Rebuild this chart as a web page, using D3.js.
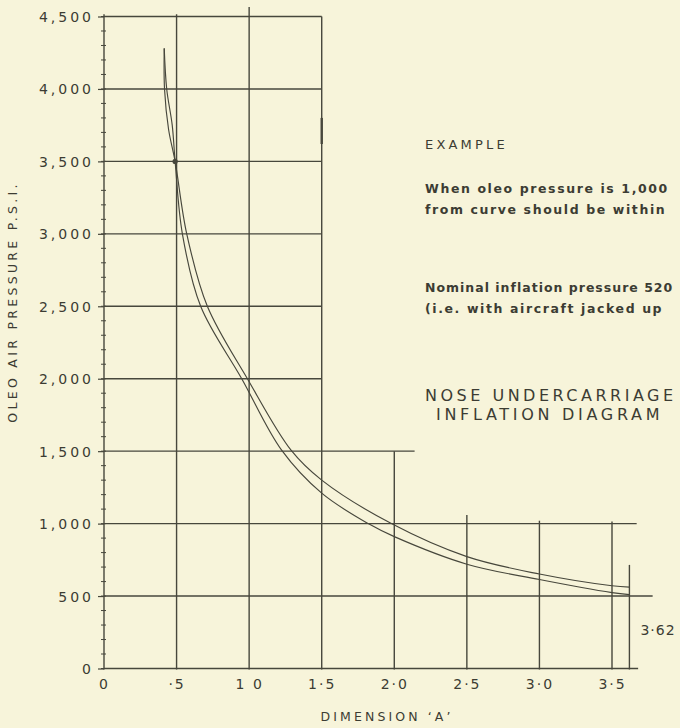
<!DOCTYPE html>
<html><head><meta charset="utf-8">
<script src="https://cdn.jsdelivr.net/npm/d3@7"></script>
<style>
html,body{margin:0;padding:0;background:#f7f4da;}
svg{display:block;}
</style></head><body>
<svg id="chart" width="680" height="728"></svg>
<script>
// ---- data ----
const xTicks = [0, 0.5, 1, 1.5, 2, 2.5, 3, 3.5];
const xTickLabels = ["0", "·5", "1 0", "1·5", "2·0", "2·5", "3·0", "3·5"];
const yTicks = [0, 500, 1000, 1500, 2000, 2500, 3000, 3500, 4000, 4500];
const yTickLabels = ["0", "500", "1,000", "1,500", "2,000", "2,500", "3,000", "3,500", "4,000", "4,500"];
const upperCurve = [[0.415,4280],[0.417,4000],[0.445,3720],[0.49,3500],[0.57,3000],[0.712,2500],[0.988,2000],[1.29,1505],[1.5,1300],[1.98,1000],[2.5,772],[3.0,652],[3.5,571],[3.62,562]];
const lowerCurve = [[0.415,4280],[0.432,4000],[0.47,3750],[0.49,3500],[0.54,3000],[0.666,2500],[0.949,2000],[1.225,1505],[1.5,1210],[1.82,1000],[2.0,910],[2.5,720],[3.0,614],[3.5,524],[3.62,510]];
const markPoint = [0.49, 3500];
const limitDimension = 3.62;
const limitLabel = "3·62";
const hGridValues = [0, 500, 1000, 1500, 2000, 2500, 3000, 3500, 4000, 4500];
const hGridEnds = [3.68, 3.78, 3.67, 2.14, 1.5, 1.5, 1.5, 1.5, 1.5, 1.5];
const vGridValues = [0, 0.5, 1, 1.5, 2, 2.5, 3, 3.5, 3.62];
const vGridTops = [4515, 4515, 4565, 4500, 1500, 1060, 1020, 1015, 715];
const xTitle = "DIMENSION \u2018A\u2019";
const yTitle = "OLEO AIR PRESSURE  P.S.I.";
const noteHead = "EXAMPLE";
const noteLines1 = ["When oleo pressure is 1,000", "from curve should be within"];
const noteLines2 = ["Nominal inflation pressure 520", "(i.e. with aircraft jacked up"];
const titleLines = ["NOSE UNDERCARRIAGE", "INFLATION DIAGRAM"];

// ---- drawing ----
const ink = "#47473c";
const txt = "#3c3c33";
const font = "DejaVu Sans, sans-serif";
const svg = d3.select("#chart");
svg.append("rect").attr("width",680).attr("height",728).attr("fill","#f7f4da");

const x = d3.scaleLinear().domain([0, 3.5]).range([104, 612]);
const y = d3.scaleLinear().domain([0, 4500]).range([668.5, 16.5]);

const g = svg.append("g");

// horizontal grid lines
g.selectAll("line.h").data(hGridValues).join("line")
  .attr("class","h")
  .attr("x1", x(0)).attr("x2", (d,i) => x(hGridEnds[i]))
  .attr("y1", d => y(d)).attr("y2", d => y(d))
  .attr("stroke", ink).attr("stroke-width", 1.4);

// vertical grid lines
g.selectAll("line.v").data(vGridValues).join("line")
  .attr("class","v")
  .attr("x1", d => x(d)).attr("x2", d => x(d))
  .attr("y1", y(0) + 1).attr("y2", (d,i) => y(vGridTops[i]))
  .attr("stroke", ink).attr("stroke-width", 1.4);

// thicker mark on the 1.5 line
g.append("line")
  .attr("x1", x(1.5)).attr("x2", x(1.5))
  .attr("y1", y(3800)).attr("y2", y(3620))
  .attr("stroke", ink).attr("stroke-width", 2.4);

// minor ticks on y axis
g.selectAll("line.minor").data(d3.range(0, 4501, 100)).join("line")
  .attr("class","minor")
  .attr("x1", x(0) - 3).attr("x2", x(0) + 2)
  .attr("y1", d => y(d)).attr("y2", d => y(d))
  .attr("stroke", ink).attr("stroke-width", 1);

// y axis labels
const yAxis = d3.axisLeft(y).tickValues(yTicks).tickFormat((d,i) => yTickLabels[i]).tickSize(6).tickPadding(4);
const ya = g.append("g").attr("transform", `translate(${x(0)},0)`).call(yAxis);
ya.select(".domain").remove();
ya.selectAll(".tick line").attr("stroke", ink).attr("stroke-width", 1.2);
ya.selectAll(".tick text")
  .attr("fill", txt).attr("font-family", font)
  .attr("font-size", 14).attr("letter-spacing", 3).attr("dy", "0.36em");

// x axis labels
const xAxis = d3.axisBottom(x).tickValues(xTicks).tickFormat((d,i) => xTickLabels[i]).tickSize(0).tickPadding(11);
const xa = g.append("g").attr("transform", `translate(0,${y(0)})`).call(xAxis);
xa.select(".domain").remove();
xa.selectAll(".tick text")
  .attr("fill", txt).attr("font-family", font)
  .attr("font-size", 14).attr("letter-spacing", 2);

// curves
const line = d3.line().x(d => x(d[0])).y(d => y(d[1])).curve(d3.curveCatmullRom.alpha(0.5));
[upperCurve, lowerCurve].forEach(c => {
  g.append("path").datum(c).attr("d", line)
    .attr("fill","none").attr("stroke", ink).attr("stroke-width", 1.15);
});
g.append("circle").attr("cx", x(markPoint[0])).attr("cy", y(markPoint[1])).attr("r", 2.6).attr("fill", ink);

// 3.62 label
g.append("text").attr("x", x(limitDimension) + 11).attr("y", y(265)).attr("dy","0.36em")
  .attr("font-family", font).attr("font-size",14).attr("letter-spacing",1)
  .attr("fill", txt).text(limitLabel);

// axis titles
svg.append("text").attr("x", 387).attr("y", 721).attr("text-anchor","middle")
  .attr("font-family", font).attr("font-size",12.5).attr("letter-spacing",3.1)
  .attr("fill", txt).text(xTitle);
svg.append("text").attr("transform","translate(17,302) rotate(-90)").attr("text-anchor","middle")
  .attr("font-family", font).attr("font-size",12.5).attr("letter-spacing",3.3)
  .attr("fill", txt).text(yTitle);

// notes
const notes = svg.append("g").attr("fill", txt).attr("font-family", font);
notes.append("text").attr("x",425).attr("y",149).attr("font-size",13).attr("letter-spacing",3.2).text(noteHead);
noteLines1.forEach((t,i) => notes.append("text").attr("x",425).attr("y",193 + i*20.5)
  .attr("font-size",12.5).attr("font-weight","bold").attr("letter-spacing",1.6).text(t));
noteLines2.forEach((t,i) => notes.append("text").attr("x",425).attr("y",291.5 + i*21)
  .attr("font-size",12.5).attr("font-weight","bold").attr("letter-spacing", i === 0 ? 1.0 : 1.6).text(t));
titleLines.forEach((t,i) => notes.append("text").attr("x", 425 + i*11).attr("y",400.5 + i*19.5)
  .attr("font-size",16).attr("letter-spacing", i === 0 ? 3.5 : 3.7).text(t));
</script>
</body></html>
